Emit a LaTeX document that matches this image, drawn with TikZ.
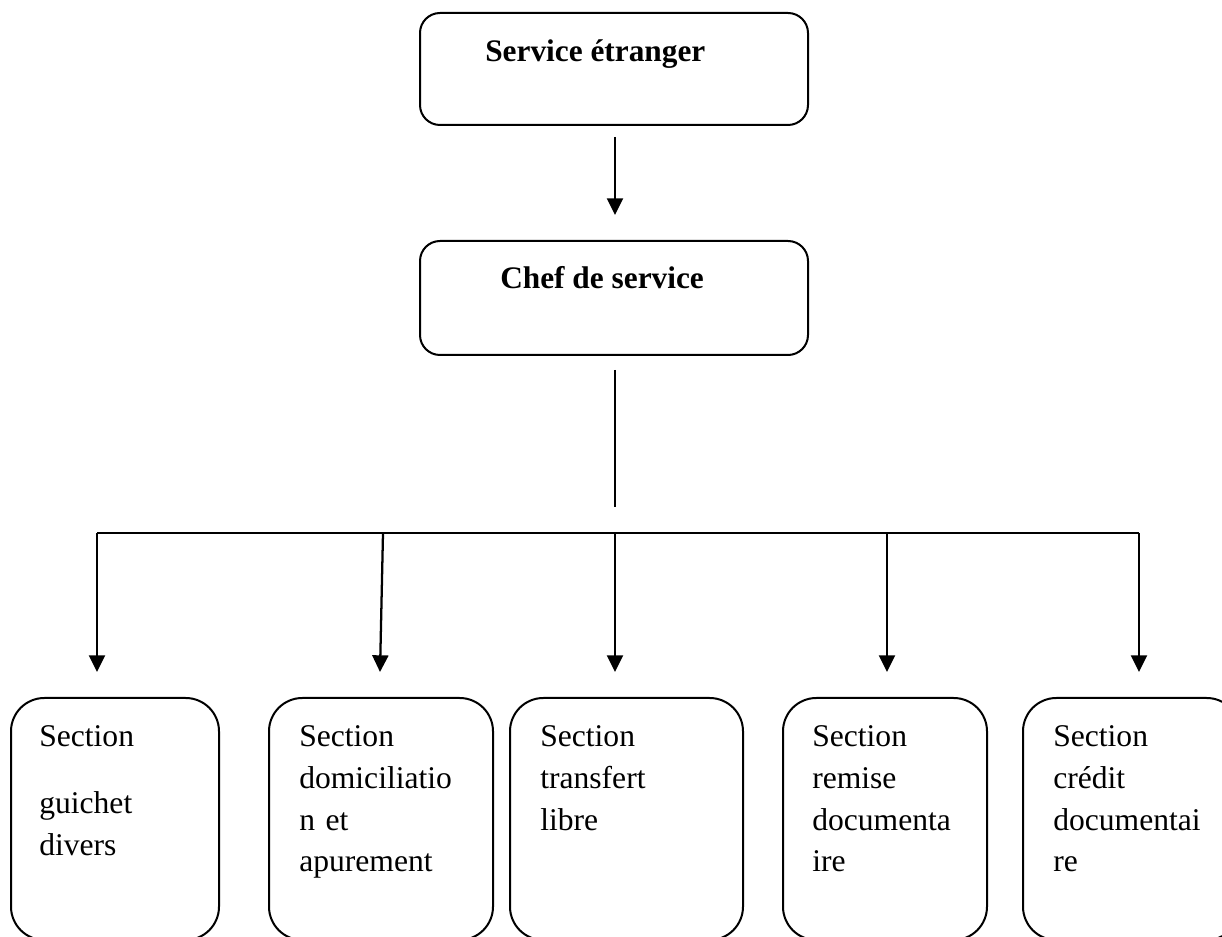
\documentclass[tikz,border=0pt]{standalone}
\usepackage{fontspec}
\setmainfont{Liberation Serif}
\usetikzlibrary{arrows.meta}

\tikzset{
  headbox/.style={draw, line width=1.5pt, rounded corners=15pt, inner sep=0pt, outer sep=0pt, minimum height=84pt},
  sectbox/.style={draw, line width=1.5pt, rounded corners=25pt, inner sep=0pt, outer sep=0pt, minimum height=181.5pt},
  headtext/.style={inner sep=0pt, anchor=base west, font=\fontsize{23.5}{31}\selectfont\bfseries},
  secttext/.style={inner sep=0pt, anchor=base west, text width=170pt, align=left, font=\fontsize{23.7}{31.2}\selectfont},
  link/.style={line width=1.7pt},
  arrowlink/.style={line width=1.7pt, -{Triangle[length=12.5pt, width=12pt]}},
}

\begin{document}
\begin{tikzpicture}[x=0.75pt, y=-0.75pt]
  \useasboundingbox (0,0) rectangle (1222,937);
  \clip (0,0) rectangle (1222,937);

  % upper level
  \node[headbox, minimum width=291pt] (etranger) at (614,69) {};
  \node[headtext] (etrangertxt) at (485,62) {Service étranger};
  \node[headbox, minimum width=291pt, minimum height=85.5pt] (chef) at (614,298) {};
  \node[headtext] (cheftxt) at (500,289) {Chef de service};

  % sections
  \node[sectbox, minimum width=156pt] (s1) at (115,819) {};
  \node[sectbox, minimum width=168pt] (s2) at (381,819) {};
  \node[sectbox, minimum width=174.75pt] (s3) at (626.5,819) {};
  \node[sectbox, minimum width=153pt] (s4) at (885,819) {};
  \node[sectbox, minimum width=162.75pt] (s5) at (1131.5,819) {};

  \node[secttext] (s1txt) at (39,747) {Section\\[19pt]guichet\\divers};
  \node[secttext] (s2txt) at (299,747) {Section\\domiciliatio\\n et\\apurement};
  \node[secttext] (s3txt) at (540,747) {Section\\transfert\\libre};
  \node[secttext] (s4txt) at (812,747) {Section\\remise\\documenta\\ire};
  \node[secttext] (s5txt) at (1053,747) {Section\\crédit\\documentai\\re};

  % connector end points
  \coordinate (a0) at (615,137);
  \coordinate (a1) at (615,215);
  \coordinate (c0) at (615,370);
  \coordinate (c1) at (615,507);
  \coordinate (b1) at (97,533);
  \coordinate (b2) at (383,533);
  \coordinate (b3) at (615,533);
  \coordinate (b4) at (887,533);
  \coordinate (b5) at (1139,533);
  \coordinate (t1) at (97,672);
  \coordinate (t2) at (380,672);
  \coordinate (t3) at (615,672);
  \coordinate (t4) at (887,672);
  \coordinate (t5) at (1139,672);

  % connectors
  \draw[arrowlink] (a0) -- (a1);
  \draw[link] (c0) -- (c1);
  \draw[link] (b1) -- (b5);
  \draw[arrowlink] (b1) -- (t1);
  \draw[arrowlink] (b2) -- (t2);
  \draw[arrowlink] (b3) -- (t3);
  \draw[arrowlink] (b4) -- (t4);
  \draw[arrowlink] (b5) -- (t5);
\end{tikzpicture}
\end{document}
